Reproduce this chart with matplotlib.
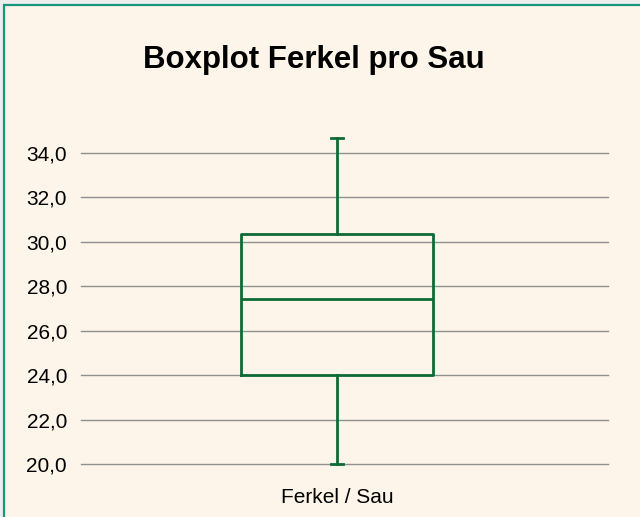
import matplotlib
matplotlib.use("Agg")
from matplotlib import pyplot as plt
from matplotlib.patches import Rectangle

# box statistics
labels = ["Ferkel / Sau"]
q1 = [24.0]
median = [27.4]
q3 = [30.33]
whisker_low = [20.0]
whisker_high = [34.65]
yticks = [20, 22, 24, 26, 28, 30, 32, 34]

bg = "#fdf5e9"
green = "#0d6b35"
W, H = 640, 517

plt.rcParams["font.family"] = ["Liberation Sans", "DejaVu Sans"]

fig = plt.figure(figsize=(6.4, 5.17), dpi=100, facecolor="#eeeeee")

# panel with teal frame (only top and left edges are inside the picture)
fig.patches.append(Rectangle((3.5 / W, -0.05), 1.1, 1 - 4.5 / H + 0.05,
                             transform=fig.transFigure, facecolor=bg,
                             edgecolor="#17957f", linewidth=1.6, zorder=-1))

ax = fig.add_axes([81 / W, 53 / H, 527 / W, 14.7 * 22.24 / H])
ax.set_facecolor("none")

stats = [
    dict(label=l, q1=a, med=m, q3=b, whislo=lo, whishi=hi)
    for l, a, m, b, lo, hi in zip(labels, q1, median, q3, whisker_low, whisker_high)
]
art = ax.bxp(
    stats, positions=[1], widths=0.364, showfliers=False,
    boxprops=dict(color=green, linewidth=2),
    medianprops=dict(color=green, linewidth=2),
    whiskerprops=dict(color=green, linewidth=2),
    capprops=dict(color=green, linewidth=2),
    capwidths=0.023,
)
for group in art.values():
    for a in group:
        a.set_clip_on(False)
        a.set_zorder(3)

ax.set_xlim(0.514, 1.514)
ax.set_ylim(20, 34.7)
ax.set_yticks(yticks)
ax.set_yticklabels([f"{t:.1f}".replace(".", ",") for t in yticks], fontsize=15)
ax.yaxis.grid(True, color="#8f8f8f", linewidth=1)
for g in ax.get_ygridlines():
    g.set_clip_on(False)
ax.set_axisbelow(True)
ax.tick_params(axis="y", length=0, pad=10)
ax.tick_params(axis="x", length=0, pad=17, labelsize=15)
for s in ax.spines.values():
    s.set_visible(False)

fig.text(314 / W, 1 - 60 / H, "Boxplot Ferkel pro Sau", ha="center", va="center",
         fontsize=22.5, fontweight="bold")

fig.savefig("out.png", dpi=100, facecolor=fig.get_facecolor())
